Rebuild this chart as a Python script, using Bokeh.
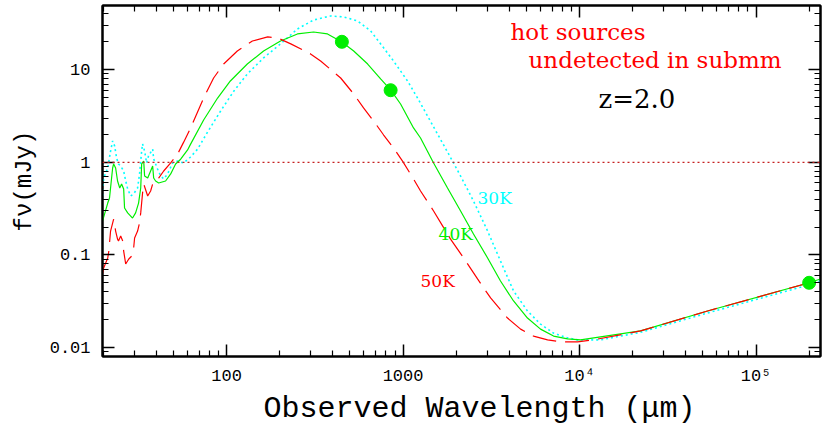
import math
from bokeh.plotting import figure
from bokeh.models import (FixedTicker, LogAxis, Span, Label, Range1d,
                          CustomJSTickFormatter)
from bokeh.embed import file_html
from bokeh.resources import INLINE

# ---------------- data (observed wavelength in micron, flux in mJy) ----------
wl_30K = [19.8, 20.1, 21.2, 22.0, 22.6, 23.2, 23.8, 24.4, 25.1, 26.1, 26.8, 27.5,
          28.6, 29.7, 31.3, 32.1, 33.0, 33.4, 34.3, 35.2, 36.1, 38.1, 38.6, 40.6,
          42.3, 44.0, 46.3, 49.4, 52.8, 57.1, 62.5, 68.5, 78.0, 92.5, 110, 131,
          162, 202, 252, 311, 388, 460, 552, 655, 776, 883, 1060, 1208, 1811,
          2118, 2506, 3013, 3565, 4227, 5070, 6012, 7126, 8551, 9750, 13150,
          22180, 53100, 198000, 231700]
f_30K = [0.433, 0.676, 0.868, 1.32, 1.70, 1.50, 1.11, 0.959, 0.912, 0.805, 0.628,
         0.515, 0.433, 0.455, 0.528, 0.748, 1.32, 1.58, 1.32, 0.983, 1.17, 1.39,
         1.09, 0.847, 0.711, 0.661, 0.748, 0.983, 1.03, 0.983, 1.14, 1.39, 2.12,
         3.58, 5.89, 8.99, 13.4, 19.0, 27.5, 34.4, 38.0, 37.1, 33.6, 26.2, 17.2,
         12.4, 7.55, 4.94, 1.23, 0.711, 0.382, 0.181, 0.0859, 0.0408, 0.0248,
         0.0179, 0.0143, 0.0127, 0.0121, 0.0121, 0.0146, 0.0236, 0.0473, 0.0523]

wl_40K = [19.8, 21.2, 21.7, 22.6, 22.9, 23.5, 24.1, 24.8, 25.4, 26.1, 26.4, 27.5,
          29.3, 30.5, 31.7, 32.6, 33.0, 33.9, 34.3, 35.7, 37.1, 38.1, 38.6, 39.6,
          41.2, 45.1, 48.2, 51.4, 54.9, 60.1, 62.5, 74.1, 88.9, 105, 131, 162,
          202, 252, 311, 373, 450, 525, 630, 746, 850, 968, 1146, 1256, 1489,
          1786, 2118, 2506, 3013, 3565, 4227, 5070, 6012, 7126, 8551, 10130,
          22180, 53100, 198000, 231700]
f_40K = [0.232, 0.363, 0.412, 0.868, 0.959, 0.868, 0.628, 0.528, 0.583, 0.515,
         0.321, 0.284, 0.250, 0.284, 0.363, 0.528, 0.959, 1.03, 0.711, 0.676,
         0.805, 0.912, 0.676, 0.628, 0.598, 0.628, 0.748, 0.959, 1.08, 1.36,
         1.57, 2.86, 4.94, 7.55, 11.5, 15.9, 20.4, 24.3, 25.5, 24.3, 19.9, 15.9,
         11.5, 7.94, 6.04, 4.26, 2.35, 1.83, 0.983, 0.528, 0.298, 0.168, 0.0927,
         0.0523, 0.0318, 0.0208, 0.0158, 0.0133, 0.0124, 0.0121, 0.0151, 0.0248,
         0.0497, 0.0550]

wl_50K = [19.8, 20.1, 21.2, 21.5, 22.0, 22.9, 23.5, 24.1, 24.4, 25.1, 25.8, 26.1,
          26.8, 27.9, 29.0, 29.7, 30.1, 31.3, 32.1, 32.6, 33.4, 33.9, 35.7, 37.1,
          38.1, 39.6, 41.2, 44.0, 48.2, 52.8, 57.1, 62.5, 74.1, 84.4, 96.2, 115,
          140, 171, 195, 231, 299, 341, 443, 525, 597, 681, 776, 883, 993, 1146,
          1256, 1489, 1858, 2203, 2642, 3133, 3908, 4634, 5483, 6590, 7798, 9750,
          12000, 22180, 53100, 198000, 231700]
f_50K = [0.0622, 0.0722, 0.0927, 0.110, 0.181, 0.244, 0.181, 0.148, 0.141, 0.160,
         0.141, 0.110, 0.0798, 0.0904, 0.0973, 0.116, 0.152, 0.181, 0.221, 0.284,
         0.466, 0.583, 0.433, 0.490, 0.583, 0.598, 0.676, 0.805, 0.983, 1.23,
         1.65, 2.35, 4.94, 8.13, 11.5, 15.9, 20.4, 22.6, 22.0, 19.0, 14.8, 12.4,
         8.13, 5.47, 3.86, 2.79, 1.97, 1.43, 1.03, 0.661, 0.490, 0.298, 0.148,
         0.0927, 0.0550, 0.0343, 0.0208, 0.0158, 0.0133, 0.0121, 0.0115, 0.0115,
         0.0121, 0.0151, 0.0248, 0.0497, 0.0564]

dot_wl = [450, 850, 2.0e5]
dot_f = [20.0, 6.0, 0.05]

x_major = [100, 1000, 10000, 100000]
x_labels = ["100", "1000", "10⁴", "10⁵"]
y_major = [0.01, 0.1, 1, 10]
y_labels = ["0.01", "0.1", "1", "10"]

# ---------------- figure ----------------
p = figure(width=822, height=428, x_axis_type="log", y_axis_type="log",
           x_range=Range1d(19.8, 2.32e5), y_range=Range1d(0.008, 49.3),
           output_backend="svg", toolbar_location=None,
           min_border_left=102, min_border_right=2, min_border_top=5,
           min_border_bottom=72)
p.grid.visible = False
p.outline_line_color = "black"
p.outline_line_width = 2
p.background_fill_color = "white"
p.border_fill_color = "white"

x_minor = [k * 10.0 ** e for e in range(1, 6) for k in range(2, 10)]
y_minor = [k * 10.0 ** e for e in range(-3, 2) for k in range(2, 10)]

MONO = "Liberation Mono"
SERIF = "DejaVu Serif"


def style_axis(ax, ticks, minors):
    ax.ticker = FixedTicker(ticks=ticks, minor_ticks=minors)
    ax.major_tick_in = 12
    ax.major_tick_out = 0
    ax.minor_tick_in = 6
    ax.minor_tick_out = 0
    ax.axis_line_width = 2
    ax.axis_line_color = "black"
    ax.major_tick_line_width = 1.5
    ax.minor_tick_line_width = 1.2
    ax.major_tick_line_color = "black"
    ax.minor_tick_line_color = "black"


xa = p.xaxis[0]
ya = p.yaxis[0]
style_axis(xa, x_major, x_minor)
style_axis(ya, y_major, y_minor)
xa.major_label_overrides = dict(zip(x_major, x_labels))
ya.major_label_overrides = dict(zip(y_major, y_labels))
for ax, so in ((xa, 10), (ya, 12)):
    ax.major_label_text_font = MONO
    ax.major_label_text_font_size = "17px"
    ax.major_label_text_color = "black"
    ax.major_label_standoff = so
    ax.axis_label_text_font = MONO
    ax.axis_label_text_font_style = "normal"
    ax.axis_label_text_color = "black"

# two no-break spaces nudge the centred title to the right, as in the original
xa.axis_label = "\u00a0\u00a0Observed Wavelength (μm)"
xa.axis_label_text_font_size = "30px"
xa.axis_label_standoff = 3
ya.axis_label = "fν(mJy)"
ya.axis_label_text_font_size = "24px"
ya.axis_label_standoff = 9

empty = CustomJSTickFormatter(code="return ''")
top_ax = LogAxis(formatter=empty, major_label_standoff=0)
right_ax = LogAxis(formatter=empty, major_label_standoff=0)
style_axis(top_ax, x_major, x_minor)
style_axis(right_ax, y_major, y_minor)
p.add_layout(top_ax, "above")
p.add_layout(right_ax, "right")

# reference level at 1 mJy
p.add_layout(Span(location=1, dimension="width", line_color="#c42020",
                  line_dash="2 3", line_width=1.2))

# SED curves
p.line(wl_30K, f_30K, line_color="#00ffff", line_width=1.6, line_dash="2 3")
p.line(wl_40K, f_40K, line_color="#00ee00", line_width=1.2)
p.line(wl_50K, f_50K, line_color="#ff0000", line_width=1.2, line_dash="24 9")

# detected fluxes
p.scatter(dot_wl, dot_f, size=13, fill_color="#00ee00", line_color="#00ee00")


def add_label(x, y, text, color, size, font=SERIF):
    p.add_layout(Label(x=x, y=y, text=text, text_color=color, text_font=font,
                       text_font_size=size, text_baseline="alphabetic",
                       text_align="left"))


add_label(4064, 25.5, "hot sources", "#ff0000", "23px")
add_label(5140, 12.7, "undetected in submm", "#ff0000", "23px")
add_label(12820, 4.83, "z=2.0", "black", "26px")
add_label(2642, 0.412, "30K", "#00ffff", "17px")
add_label(1589, 0.168, "40K", "#00ee00", "17px")
add_label(1256, 0.0523, "50K", "#ff0000", "17px")

open("out.html", "w").write(file_html(p, INLINE))
